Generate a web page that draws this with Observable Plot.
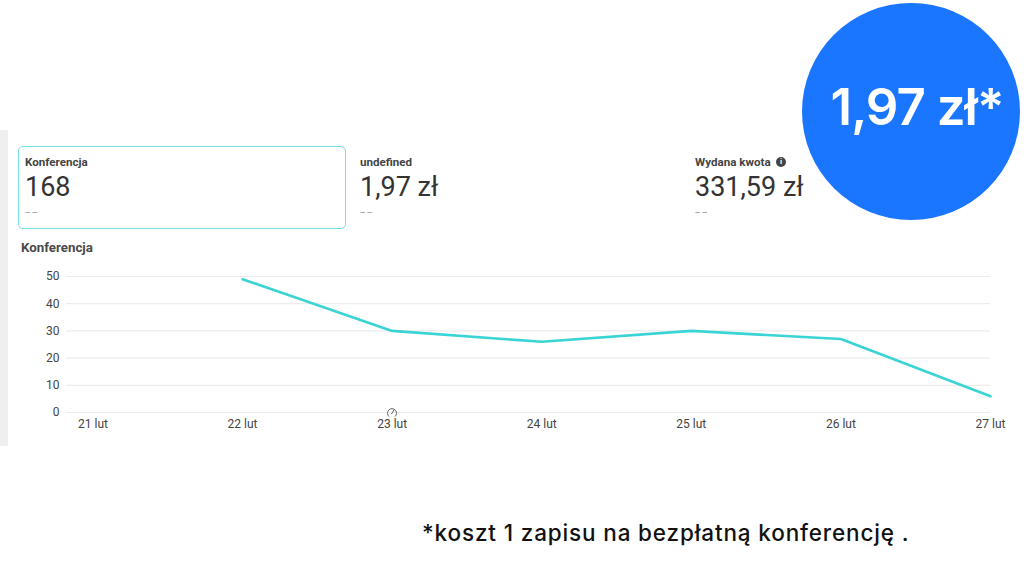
<!DOCTYPE html>
<html lang="pl">
<head>
<meta charset="utf-8">
<script src="https://cdn.jsdelivr.net/npm/d3@7"></script>
<script src="https://cdn.jsdelivr.net/npm/@observablehq/plot@0.6"></script>
<style>
  html, body { margin: 0; padding: 0; background: #fff; }
  #page { position: relative; width: 1024px; height: 577px; overflow: hidden; font-family: Roboto, sans-serif; }
  #page > * { position: absolute; }
  #strip { left: 0; top: 130px; width: 8px; height: 316px; background: #efefef; }
  #chart { left: 0; top: 0; }
  #chart svg { display: block; background: transparent; }
  .card-box { left: 18px; top: 146px; width: 326px; height: 81px; border: 1.5px solid #74e0e4; border-radius: 5px; }
  .card-title { font-size: 11.6px; font-weight: 700; color: #444; line-height: 12px; white-space: nowrap; }
  .card-value { font-size: 27px; color: #333; line-height: 30px; white-space: nowrap; }
  .card-delta { font-size: 12px; color: #aaa; line-height: 12px; letter-spacing: 1px; transform: scaleX(1.6); transform-origin: left center; }
  #heading { left: 21px; top: 241px; font-size: 13.3px; font-weight: 700; color: #4a4a4a; line-height: 14px; }
  #bubble { left: 802px; top: 3px; width: 218px; height: 217px; border-radius: 50%; background: #1a76ff; }
  #bubbleText { left: 808px; top: 72px; width: 218px; text-align: center; color: #fff; font: 600 51px/70px Inter, sans-serif; letter-spacing: -1px; white-space: nowrap; }
  #note { left: 422px; top: 519px; font: 500 22.5px/28px Inter, sans-serif; letter-spacing: 0.85px; color: #111; white-space: nowrap; }
  #info { left: 776px; top: 157px; width: 10px; height: 10px; border-radius: 50%; background: #444; color: #fff; font: 700 8px/10px Roboto, sans-serif; text-align: center; }
  #gauge { left: 386px; top: 406px; }
</style>
</head>
<body>
<div id="page">
  <div id="strip"></div>
  <div id="chart"></div>
  <div class="card-box"></div>
  <div id="heading"></div>
  <div id="info">i</div>
  <svg id="gauge" width="12" height="12" viewBox="0 0 12 12" fill="none" stroke="#666" stroke-width="1">
    <path d="M3 10.5 A4.5 4.5 0 1 1 9 10.5"/>
    <path d="M5.5 8 L8.5 3"/>
  </svg>
  <div id="bubble"></div>
  <div id="bubbleText"></div>
  <div id="note"></div>
</div>
<script>
const days = ["21 lut", "22 lut", "23 lut", "24 lut", "25 lut", "26 lut", "27 lut"];
const signups = [null, 49, 30, 26, 30, 27, 6];
const yTicks = [0, 10, 20, 30, 40, 50];

const cardTitles = ["Konferencja", "undefined", "Wydana kwota"];
const cardValues = ["168", "1,97 zł", "331,59 zł"];
const cardDeltas = ["--", "--", "--"];
const cardLefts = [25, 360, 695];

const chartTitle = "Konferencja";
const bubbleLabel = "1,97 zł*";
const noteText = "*koszt 1 zapisu na bezpłatną konferencję .";

const rows = days.map((day, i) => ({ day, value: signups[i] }));

const plot = Plot.plot({
  width: 1024,
  height: 577,
  marginLeft: 66,
  marginRight: 34,
  marginTop: 0,
  marginBottom: 0,
  style: { fontFamily: "Roboto, sans-serif", background: "transparent" },
  x: { type: "point", domain: days, range: [92.5, 990], padding: 0, round: false, label: null },
  y: { domain: [0, 50], range: [412, 276], label: null },
  marks: [
    Plot.ruleY(yTicks, { stroke: "#ececec", strokeWidth: 1.2 }),
    Plot.axisY({ ticks: yTicks, tickSize: 0, tickPadding: 7, fontSize: 12, color: "#444", label: null }),
    Plot.axisX({ ticks: days, tickSize: 0, tickPadding: 6, fontSize: 12, color: "#444", label: null, anchor: "bottom", frameAnchor: "bottom", dy: -164 }),
    Plot.line(rows, { x: "day", y: "value", stroke: "#3ad4d4", strokeWidth: 2.6 })
  ]
});
document.getElementById("chart").append(plot);

// cards sit in html on top of the svg
const page = document.getElementById("page");
const bubble = document.getElementById("bubble");
cardTitles.forEach((title, i) => {
  const left = cardLefts[i];
  const parts = [
    ["card-title", title, 156],
    ["card-value", cardValues[i], 172],
    ["card-delta", cardDeltas[i], 206]
  ];
  parts.forEach(([cls, text, top]) => {
    const el = document.createElement("div");
    el.className = cls;
    el.textContent = text;
    el.style.left = left + "px";
    el.style.top = top + "px";
    page.insertBefore(el, bubble);
  });
});
document.getElementById("heading").textContent = chartTitle;
document.getElementById("bubbleText").textContent = bubbleLabel;
document.getElementById("note").textContent = noteText;
</script>
</body>
</html>
